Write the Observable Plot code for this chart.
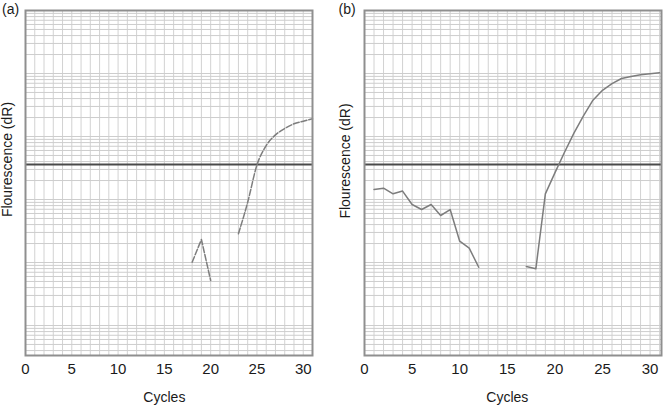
<!DOCTYPE html>
<html>
<head>
<meta charset="utf-8">
<script src="https://cdn.jsdelivr.net/npm/d3@7"></script>
<script src="https://cdn.jsdelivr.net/npm/@observablehq/plot@0.6"></script>
<style>
  html, body { margin: 0; padding: 0; background: #fff; }
  #wrap { display: flex; width: 666px; height: 407px; }
  #wrap svg { display: block; }
</style>
</head>
<body>
<div id="wrap"></div>
<script>
// ---- data ----
const xTickLabels = [0, 5, 10, 15, 20, 25, 30];
const yLabel = "Flourescence (dR)";
const xLabel = "Cycles";
const threshold = 0.036;

// panel (a)
const aSeg1Cycles = [18, 19, 20];
const aSeg1Values = [0.00101, 0.00232, 0.000518];
const aSeg2Cycles = [23, 24, 25, 26, 27, 28, 29, 30, 31];
const aSeg2Values = [0.00286, 0.00906, 0.0353, 0.0719, 0.106, 0.134, 0.159, 0.175, 0.191];

// panel (b)
const bSeg1Cycles = [1, 2, 3, 4, 5, 6, 7, 8, 9, 10, 11, 12];
const bSeg1Values = [0.0144, 0.0151, 0.0123, 0.0136, 0.00834, 0.00693, 0.00834, 0.00557, 0.00693, 0.00218, 0.00169, 0.000841];
const bSeg2Cycles = [17, 18, 19, 20, 21, 22, 23, 24, 25, 26, 27, 28, 29, 30, 31];
const bSeg2Values = [0.000865, 0.000794, 0.0123, 0.0265, 0.0557, 0.113, 0.213, 0.377, 0.541, 0.692, 0.834, 0.895, 0.953, 0.993, 1.026];

// ---- grid positions (scale ticks) ----
const xGrid = d3.range(0, 32);
const yGrid = [];
for (let n = -5; n <= 0; n++) for (let k = 1; k <= 9; k++) yGrid.push(k * Math.pow(10, n));
yGrid.push(10);
const yDomain = [3.34e-5, 10];

function rows(cs, vs) {
  return cs.map((c, j) => ({cycle: c, value: vs[j]}));
}

function panel({label, segments, xMax, marginLeft, marginRight, dash, ylabDx, ylabDy, tagDx}) {
  const yGridIn = yGrid.filter(v => v >= yDomain[0] && v <= yDomain[1]);
  return Plot.plot({
    width: 333,
    height: 407,
    marginLeft, marginRight,
    marginTop: 10,
    marginBottom: 52,
    x: {domain: [0, xMax], axis: null},
    y: {type: "log", domain: yDomain, axis: null},
    style: {fontFamily: "'Liberation Sans', Arial, Helvetica, sans-serif", fontSize: "14px", color: "#1a1a1a", background: "#fff", overflow: "visible"},
    marks: [
      Plot.ruleX(xGrid.filter(v => v <= xMax), {stroke: "#d2d2d2", strokeWidth: 1}),
      Plot.ruleY(yGridIn, {stroke: "#cdcdcd", strokeWidth: 1}),
      Plot.ruleY([threshold], {stroke: "#4a4a4a", strokeWidth: 2}),
      ...segments.map(s => Plot.line(s.data, {x: "cycle", y: "value", stroke: "#7d7d7d", strokeWidth: 1.5, strokeDasharray: dash, strokeLinejoin: "round", curve: s.curve})),
      Plot.frame({stroke: "#8f8f8f", strokeWidth: 2}),
      Plot.axisX(xTickLabels, {tickSize: 0, tickPadding: 8, label: null, fontSize: 15}),
      Plot.text([yLabel], {frameAnchor: "left", rotate: -90, textAnchor: "middle", lineAnchor: "middle", dx: ylabDx, dy: ylabDy, fontSize: 14}),
      Plot.text([{x: 15, t: xLabel}], {x: "x", text: "t", frameAnchor: "bottom", lineAnchor: "middle", dy: 42, fontSize: 14}),
      Plot.text([label], {frameAnchor: "top-left", textAnchor: "start", lineAnchor: "middle", dx: tagDx, dy: -1, fontSize: 14})
    ]
  });
}

const wrap = document.getElementById("wrap");
wrap.appendChild(panel({
  label: "(a)",
  segments: [
    {data: rows(aSeg1Cycles, aSeg1Values), curve: "linear"},
    {data: rows(aSeg2Cycles, aSeg2Values), curve: "monotone-x"}
  ],
  xMax: 31, marginLeft: 25, marginRight: 21, dash: "6,2",
  ylabDx: -17.5, ylabDy: -23.5, tagDx: -23.5
}));
wrap.appendChild(panel({
  label: "(b)",
  segments: [
    {data: rows(bSeg1Cycles, bSeg1Values), curve: "linear"},
    {data: rows(bSeg2Cycles, bSeg2Values), curve: "linear"}
  ],
  xMax: 31.2, marginLeft: 31, marginRight: 5, dash: null,
  ylabDx: -18.5, ylabDy: -22, tagDx: -26
}));
</script>
</body>
</html>
